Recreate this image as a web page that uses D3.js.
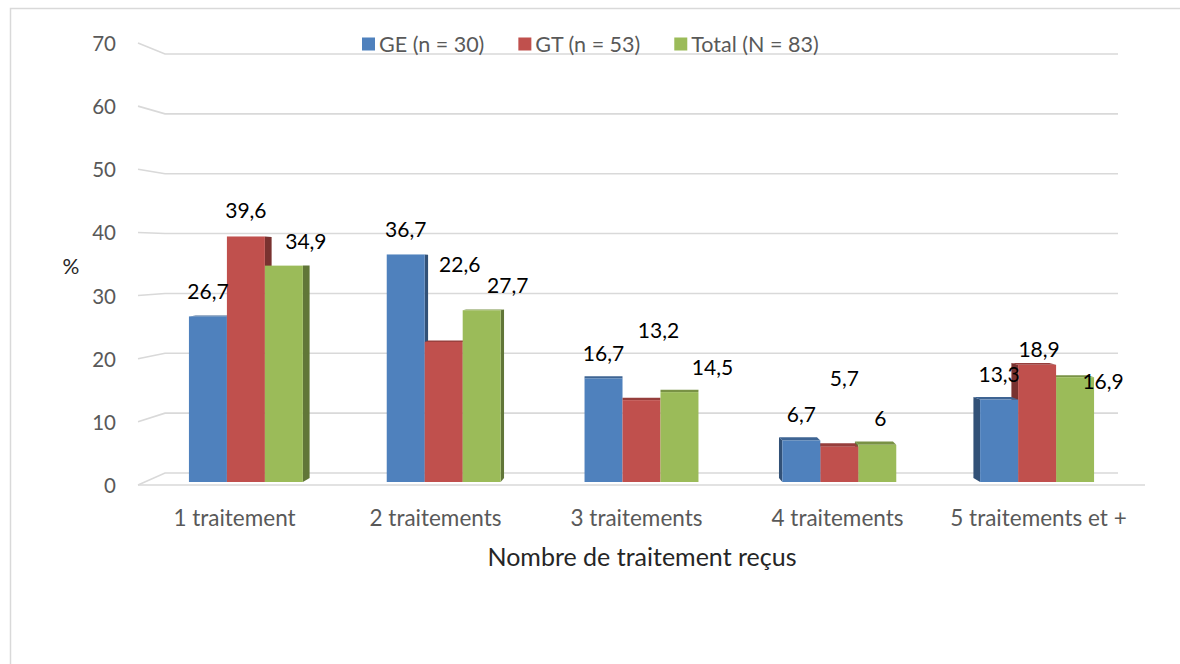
<!DOCTYPE html>
<html>
<head>
<meta charset="utf-8">
<script src="https://cdn.jsdelivr.net/npm/d3@7"></script>
<style>
  html, body { margin: 0; padding: 0; background: #fff; }
  svg { display: block; font-family: Lato, "Open Sans", sans-serif; }
</style>
</head>
<body>
<svg id="chart" width="1180" height="664"></svg>
<script>
// Nombre de traitements reçus, par groupe (%)
const categories = ["1 traitement", "2 traitements", "3 traitements", "4 traitements", "5 traitements et +"];
const seriesNames = ["GE (n = 30)", "GT (n = 53)", "Total (N = 83)"];
const geValues = [26.7, 36.7, 16.7, 6.7, 13.3];
const gtValues = [39.6, 22.6, 13.2, 5.7, 18.9];
const totalValues = [34.9, 27.7, 14.5, 6, 16.9];
const yTicks = [0, 10, 20, 30, 40, 50, 60, 70];
const yLabel = "%";
const xLabel = "Nombre de traitement reçus";

const seriesValues = [geValues, gtValues, totalValues];
const colors = ["#4F81BD", "#C0504D", "#9BBB59"];

// Data-label placement (offset from the bar's top-centre), per series and category
const labelShift = [
  [[0, -26], [0, -26], [0, -26], [0, -27], [0, -26]],
  [[0, -27], [16, -78], [17, -71], [5, -69], [2, -16]],
  [[22, -25], [26, -26], [33, -26], [3, -27], [28, 3]]
];

const svg = d3.select("#chart");

// Chart frame
svg.append("rect")
  .attr("x", 10.5).attr("y", 8.5)
  .attr("width", 1200).attr("height", 700)
  .attr("fill", "#fff").attr("stroke", "#d9d9d9").attr("stroke-width", 1.5);

// Pseudo-3D geometry: front edge of side wall, back wall, and bar plane
const yFront = d3.scaleLinear().domain([0, 70]).range([485, 43]);
const yBack = d3.scaleLinear().domain([0, 70]).range([473, 54]);
const yBar = d3.scaleLinear().domain([0, 70]).range([482, 48]);
const frontLeft = 138, backLeft = 165, backRight = 1118, frontRight = 1145;

const x0 = d3.scaleBand().domain(categories).range([147, 1136]).paddingInner(0.424).paddingOuter(0.212);
const x1 = d3.scaleBand().domain(d3.range(seriesNames.length)).range([0, x0.bandwidth()]);
const xLabelScale = d3.scaleBand().domain(categories).range([134, 1139]);

// Gridlines on side wall and back wall
const grid = svg.append("g").attr("stroke", "#d9d9d9").attr("stroke-width", 1.6).attr("fill", "none");
yTicks.forEach(t => {
  grid.append("path")
    .attr("d", d3.line()([[frontLeft, yFront(t)], [backLeft, yBack(t)], [backRight, yBack(t)]]));
});
// Front floor edge
grid.append("line")
  .attr("x1", frontLeft).attr("x2", frontRight)
  .attr("y1", yFront(0)).attr("y2", yFront(0));

// Y tick labels
svg.append("g").selectAll("text").data(yTicks).join("text")
  .attr("x", 116).attr("y", d => yFront(d))
  .attr("text-anchor", "end").attr("dominant-baseline", "central")
  .attr("fill", "#595959").attr("font-size", 20.5)
  .text(d => d);

svg.append("text")
  .attr("x", 71).attr("y", 265)
  .attr("text-anchor", "middle").attr("dominant-baseline", "central")
  .attr("fill", "#262626").attr("font-size", 21)
  .text(yLabel);

// Bars with perspective side and top faces
const horizonY = 265, depthK = 0.0186, vanishX = 642, sideK = 0.017;
const bars = svg.append("g");

categories.forEach((cat, ci) => {
  const cx = x0(cat) + x0.bandwidth() / 2;
  const dx = (vanishX - cx) * sideK;
  const order = dx >= 0 ? d3.range(seriesNames.length) : d3.range(seriesNames.length).reverse();
  order.forEach(si => {
    const v = seriesValues[si][ci];
    const xl = x0(cat) + x1(si);
    const xr = xl + x1.bandwidth();
    const yt = yBar(v);
    const yb = yBar(0);
    const dyTop = -(yt - horizonY) * depthK;
    const dyBot = -(yb - horizonY) * depthK;
    const base = d3.color(colors[si]);
    const g = bars.append("g");
    if (Math.abs(dx) > 0.8) {
      const xe = dx > 0 ? xr : xl;
      g.append("path")
        .attr("d", d3.line()([[xe, yt], [xe + dx, yt + dyTop], [xe + dx, yb + dyBot], [xe, yb]]) + "Z")
        .attr("fill", base.darker(1.3).formatHex());
    }
    if (dyTop < 0) {
      g.append("path")
        .attr("d", d3.line()([[xl, yt], [xr, yt], [xr + dx, yt + dyTop], [xl + dx, yt + dyTop]]) + "Z")
        .attr("fill", base.darker(0.7).formatHex());
    }
    g.append("rect")
      .attr("x", xl).attr("y", yt)
      .attr("width", x1.bandwidth()).attr("height", yb - yt)
      .attr("fill", colors[si]);
  });
});

// Data labels
const fmt = v => String(v).replace(".", ",");
const labels = svg.append("g")
  .attr("font-size", 21).attr("fill", "#000")
  .attr("text-anchor", "middle").attr("dominant-baseline", "central");
seriesValues.forEach((vals, si) => {
  vals.forEach((v, ci) => {
    const cx = x0(categories[ci]) + x1(si) + x1.bandwidth() / 2;
    const s = labelShift[si][ci];
    labels.append("text")
      .attr("x", cx + s[0]).attr("y", yBar(v) + s[1])
      .text(fmt(v));
  });
});

// Category labels
svg.append("g").selectAll("text").data(categories).join("text")
  .attr("x", d => xLabelScale(d) + xLabelScale.bandwidth() / 2)
  .attr("y", 517)
  .attr("text-anchor", "middle").attr("dominant-baseline", "central")
  .attr("fill", "#595959").attr("font-size", 22.5)
  .text(d => d);

svg.append("text")
  .attr("x", 642).attr("y", 556)
  .attr("text-anchor", "middle").attr("dominant-baseline", "central")
  .attr("fill", "#262626").attr("font-size", 25)
  .text(xLabel);

// Legend
const legend = svg.append("g").attr("font-size", 21.5).attr("fill", "#595959");
let lx = 362;
seriesNames.forEach((name, i) => {
  legend.append("rect")
    .attr("x", lx).attr("y", 37.5).attr("width", 13).attr("height", 13)
    .attr("fill", colors[i]);
  const t = legend.append("text")
    .attr("x", lx + 17).attr("y", 44)
    .attr("dominant-baseline", "central")
    .text(name);
  lx += 17 + t.node().getComputedTextLength() + 34;
});
</script>
</body>
</html>
